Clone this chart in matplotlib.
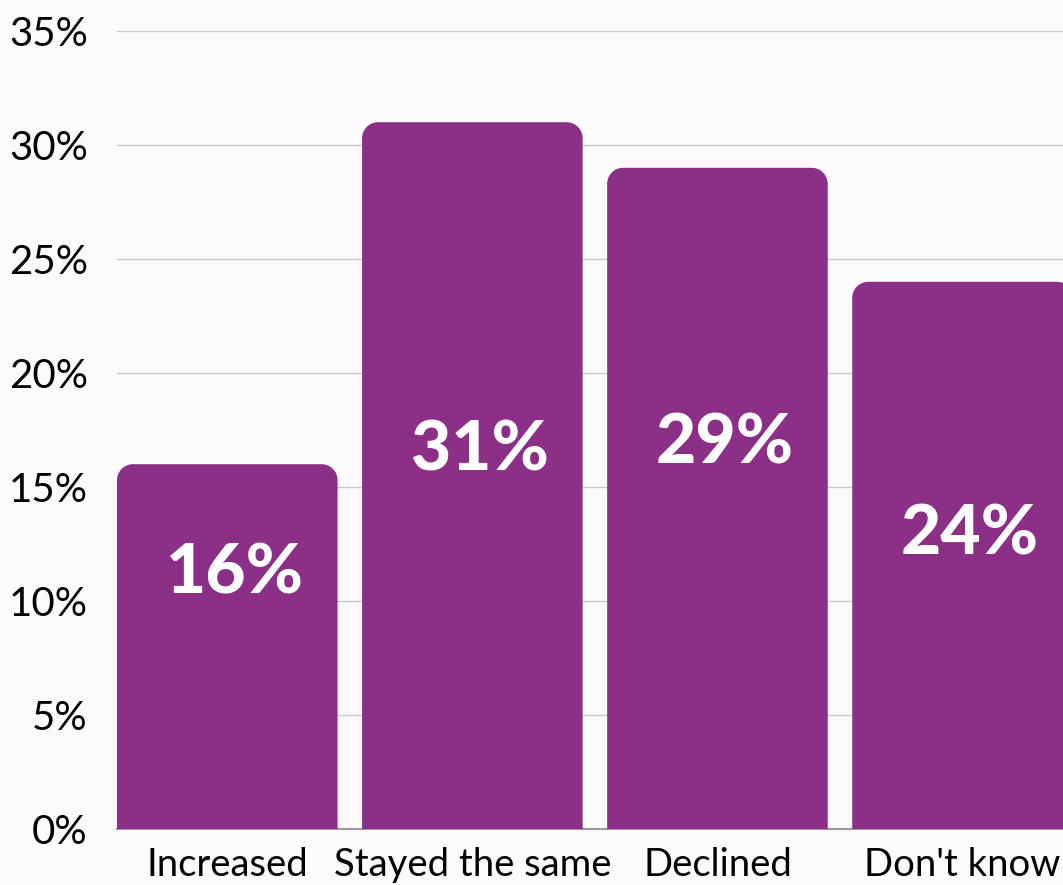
import numpy as np
import matplotlib
matplotlib.use("Agg")
import matplotlib.pyplot as plt
from matplotlib.path import Path
from matplotlib.patches import PathPatch

# Survey answers and their shares (%)
categories = ["Increased", "Stayed the same", "Declined", "Don't know"]
shares = [16, 31, 29, 24]
label_pos = [11.2, 16.6, 16.9, 12.9]
y_ticks = [0, 5, 10, 15, 20, 25, 30, 35]

bar_color = "#8B2F87"
bg_color = "#FDFAFD"

plt.rcParams["font.family"] = ["Lato", "DejaVu Sans"]

W, H = 1063, 885
fig = plt.figure(figsize=(W / 100, H / 100), dpi=100, facecolor=bg_color)
ax = fig.add_axes([117 / W, 56 / H, (W - 117) / W, 798 / H], facecolor=bg_color)

x = np.arange(len(categories))
ax.set_xlim(-0.45, 3.41)
ax.set_ylim(0, 35)

bars = ax.bar(x, shares, width=0.9, color=bar_color, zorder=3)


def rounded_top(x0, w, h, rx, ry):
    # rectangle with rounded top corners, corner sizes given in data units
    k = 0.5523
    verts = [
        (x0, 0), (x0, h - ry),
        (x0, h - ry + k * ry), (x0 + rx - k * rx, h), (x0 + rx, h),
        (x0 + w - rx, h),
        (x0 + w - rx + k * rx, h), (x0 + w, h - ry + k * ry), (x0 + w, h - ry),
        (x0 + w, 0), (x0, 0),
    ]
    codes = [Path.MOVETO, Path.LINETO,
             Path.CURVE4, Path.CURVE4, Path.CURVE4,
             Path.LINETO,
             Path.CURVE4, Path.CURVE4, Path.CURVE4,
             Path.LINETO, Path.CLOSEPOLY]
    return Path(verts, codes)


# corner radius of ~16 px converted to data units
px_x = (W - 117) / (3.41 + 0.45)
px_y = 798 / 35
r = 16
for rect in bars:
    p = rounded_top(rect.get_x(), rect.get_width(), rect.get_height(), r / px_x, r / px_y)
    ax.add_patch(PathPatch(p, facecolor=bar_color, edgecolor="none", zorder=3))
    rect.set_visible(False)

for xi, v, yp in zip(x, shares, label_pos):
    ax.text(xi + 0.03, yp, f"{v}%", ha="center", va="center", color="white",
            fontsize=50, fontweight="black", zorder=4)

ax.set_yticks(y_ticks)
ax.set_yticklabels([f"{t}%" for t in y_ticks])
ax.set_xticks(x)
ax.set_xticklabels(categories)
ax.tick_params(axis="y", length=0, pad=21, labelsize=29, labelcolor="black")
ax.tick_params(axis="x", length=0, pad=13, labelsize=27.5, labelcolor="black")

ax.grid(axis="y", color="#C8C8C8", linewidth=1, zorder=0)
ax.set_axisbelow(True)
for side in ["left", "right", "top"]:
    ax.spines[side].set_visible(False)
ax.spines["bottom"].set_color("#9A9A9A")
ax.spines["bottom"].set_linewidth(1.5)
ax.spines["bottom"].set_zorder(1)

fig.savefig("out.png", dpi=100, facecolor=bg_color)
